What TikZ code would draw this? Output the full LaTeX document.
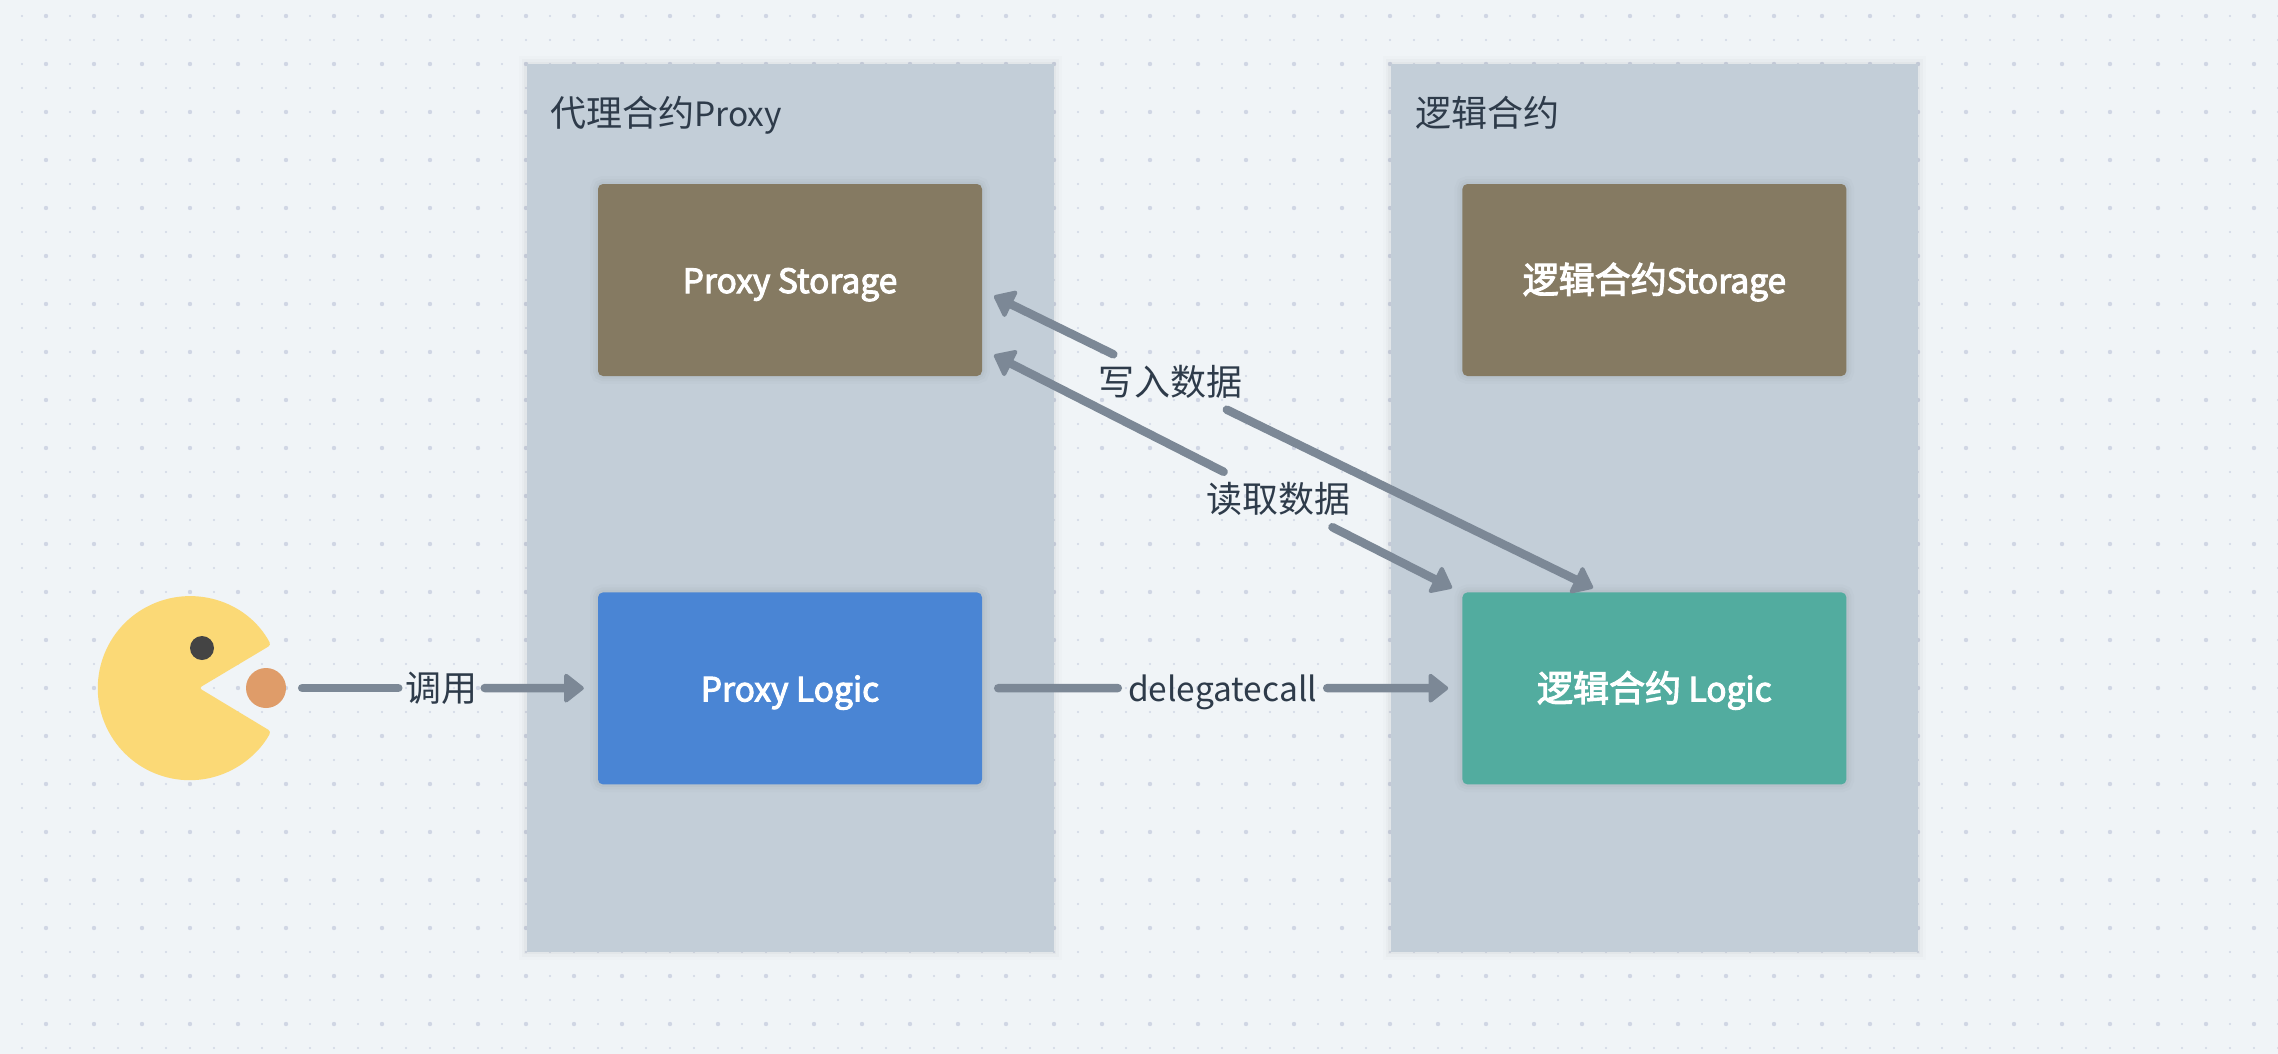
\documentclass[tikz,border=0pt]{standalone}
\usepackage{fontspec}
\setmainfont{Noto Sans CJK SC}
\newfontfamily\boxfont[FakeBold=3]{Noto Sans CJK SC}
\usepackage{xcolor}
\usetikzlibrary{positioning,arrows.meta}
\definecolor{bgcol}{HTML}{F0F4F7}
\definecolor{panelcol}{HTML}{C3CED8}
\definecolor{storecol}{HTML}{857A62}
\definecolor{bluecol}{HTML}{4A85D4}
\definecolor{greencol}{HTML}{52AC9F}
\definecolor{flowcol}{HTML}{7C8896}
\definecolor{inkcol}{HTML}{2E3B4A}
\definecolor{griddot}{HTML}{D0D6E4}
\definecolor{mancol}{HTML}{FBD976}
\definecolor{eyecol}{HTML}{444444}
\definecolor{foodcol}{HTML}{DF9C69}
\newcommand{\lat}[1]{{\fontsize{33.5}{40}\selectfont #1}}
\tikzset{
  softshadow/.style={preaction={draw=black,draw opacity=.012,line width=16pt},preaction={draw=black,draw opacity=.018,line width=10pt},preaction={draw=black,draw opacity=.025,line width=5pt}},
  panel/.style={softshadow,fill=panelcol,minimum width=527pt,minimum height=887pt,inner sep=0pt},
  blk/.style={rounded corners=5pt,softshadow,minimum width=384pt,minimum height=192pt,inner sep=0pt,text=white,text height=26pt,text depth=0pt,font=\boxfont\fontsize{36}{40}\selectfont},
  title/.style={text=inkcol,inner sep=0pt,anchor=west,text height=27pt,text depth=0pt,font=\fontsize{36}{40}\selectfont},
  flowlab/.style={text=inkcol,inner xsep=7pt,inner ysep=0pt,minimum height=55pt,text height=28pt,text depth=2pt,font=\fontsize{36}{40}\selectfont},
  flow/.style={draw=flowcol,line width=8.5pt,line cap=round},
  flowtip/.style={flow,-{Triangle[length=21pt,width=32pt,line width=4pt,round]}}
}
\begin{document}
\begin{tikzpicture}[x=1pt,y=-1pt]
\useasboundingbox (0,0) rectangle (2278,1054);
\fill[bgcol] (0,0) rectangle (2278,1054);
% dotted paper
\foreach \i in {0,...,94}{\foreach \j in {0,...,43}{\fill[griddot] ({22+24*\i},{16+24*\j}) circle (1.2);}}
\foreach \i in {0,...,47}{\foreach \j in {0,...,21}{\fill[griddot] ({46+48*\i},{16+48*\j}) circle (2.2);}}
% panels
\node[panel] (ppanel) at (790,508) {};
\node[panel,right=337pt of ppanel] (lpanel) {};
\node[title] (ptitle) at (550,113) {代理合约\lat{Proxy}};
\node[title] (ltitle) at (1415,113) {逻辑合约};
% boxes
\node[blk,fill=storecol] (pstore) at (790,280) {\lat{Proxy Storage}};
\node[blk,fill=bluecol,below=216pt of pstore] (plogic) {\lat{Proxy Logic}};
\node[blk,fill=storecol,right=480pt of pstore] (lstore) {逻辑合约\lat{Storage}};
\node[blk,fill=greencol,right=480pt of plogic] (llogic) {逻辑合约\lat{ Logic}};
% player
\fill[rounded corners=3pt,mancol] (199,688) -- (271,645) arc[start angle=-28,end angle=-332,radius=92] -- cycle;
\node[circle,fill=eyecol,minimum size=24pt,inner sep=0pt] (eye) at (202,648) {};
\node[circle,fill=foodcol,minimum size=40pt,inner sep=0pt] (food) at (266,688) {};
% labels
\node[flowlab] (calllab) at (441.5,688) {调用};
\node[flowlab,inner xsep=10pt] (dellab) at (1222.5,688) {\lat{delegatecall}};
\node[flowlab] (wlab) at (1170,382) {写入数据};
\node[flowlab] (rlab) at (1278,499.5) {读取数据};
% free ends of the slanted arrows
\coordinate (wtop) at (994,296);
\coordinate (wbot) at (1593,588);
\coordinate (rtop) at (994,355);
\coordinate (rbot) at (1452,588);
% connectors
\draw[flow,shorten <=16pt] (food) -- (calllab);
\draw[flowtip,shorten >=14pt] (calllab) -- (plogic);
\draw[flow,shorten <=16pt] (plogic) -- (dellab);
\draw[flowtip,shorten >=14pt] (dellab) -- (llogic);
\draw[flowtip] (wlab) -- (wtop);
\draw[flowtip] (wlab) -- (wbot);
\draw[flowtip] (rlab) -- (rtop);
\draw[flowtip] (rlab) -- (rbot);
\end{tikzpicture}
\end{document}
